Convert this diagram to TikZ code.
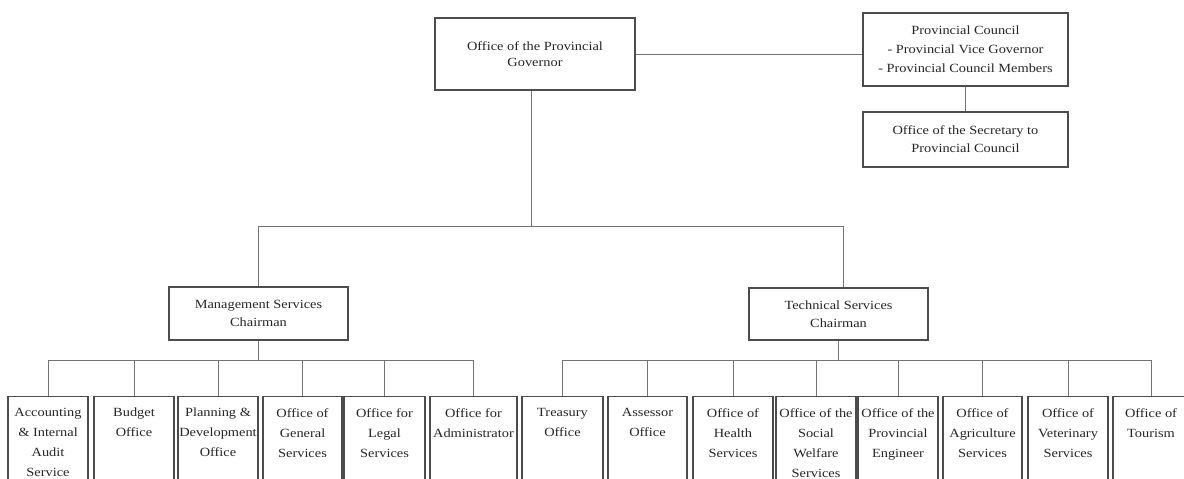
\documentclass[tikz,border=0pt]{standalone}
\usepackage{fontspec}
\setmainfont[FakeStretch=1.15]{Liberation Serif}
\tikzset{
  box/.style={draw=black!70, line width=1.1pt, fill=white, inner sep=0pt},
  toptext/.style={text=black!85, align=center},
  lbl/.style={text=black!85, align=center, inner sep=0pt, font={\fontsize{12.5}{20}\selectfont}},
  conn/.style={draw=black!55, line width=0.7pt},
}
\newcommand\lowbox[4]{%
  \node[box, anchor=north, minimum width=#3pt, minimum height=100pt] (#1) at (#2,396) {};
  \node[lbl, anchor=north] (#1t) at ([yshift=-12pt]#1.north) {#4};
}
\begin{document}
\begin{tikzpicture}[x=1pt, y=-1pt]
\useasboundingbox (0,0) rectangle (1184,479);
\clip (0,0) rectangle (1184,479);

% top level
\node[box, toptext, minimum width=200pt, minimum height=72pt, font={\fontsize{12.5}{16}\selectfont}] (gov) at (535,54) {Office of the Provincial\\Governor};
\node[box, toptext, minimum width=205pt, minimum height=73pt, font={\fontsize{12.5}{19}\selectfont}] (council) at (965.5,49.5) {Provincial Council\\- Provincial Vice Governor\\- Provincial Council Members};
\node[box, toptext, minimum width=205pt, minimum height=55pt, font={\fontsize{12.5}{18}\selectfont}] (sec) at (965.5,139.5) {Office of the Secretary to\\Provincial Council};

% second level
\node[box, toptext, minimum width=179pt, minimum height=53pt, font={\fontsize{12.5}{18}\selectfont}] (mgmt) at (258.5,313.5) {Management Services\\Chairman};
\node[box, toptext, minimum width=179pt, minimum height=52pt, font={\fontsize{12.5}{18}\selectfont}] (tech) at (838.5,314) {Technical Services\\Chairman};

% bottom level
\lowbox{acc}{48}{80}{Accounting\\\& Internal\\Audit\\Service}
\lowbox{bud}{134}{80}{Budget\\Office}
\lowbox{plan}{218}{80}{Planning \&\\Development\\Office}
\lowbox{gen}{302.5}{79}{Office of\\General\\Services}
\lowbox{legal}{384.5}{81}{Office for\\Legal\\Services}
\lowbox{admin}{473.5}{87}{Office for\\Administrator}
\lowbox{treas}{562.5}{81}{Treasury\\Office}
\lowbox{assess}{647.5}{79}{Assessor\\Office}
\lowbox{health}{733}{80}{Office of\\Health\\Services}
\lowbox{social}{816}{80}{Office of the\\Social\\Welfare\\Services}
\lowbox{eng}{898}{80}{Office of the\\Provincial\\Engineer}
\lowbox{agri}{982.5}{79}{Office of\\Agriculture\\Services}
\lowbox{vet}{1068}{80}{Office of\\Veterinary\\Services}
\lowbox{tour}{1151}{76}{Office of\\Tourism}

% connectors
\coordinate (topbus) at (531,226);
\coordinate (lbus) at (258.5,360);
\coordinate (rbus) at (838.5,360);
\draw[conn] (gov.east) -- (gov.east -| council.west);
\draw[conn] (council.south) -- (sec.north);
\draw[conn] ([xshift=-4pt]gov.south) -- (topbus);
\draw[conn] (mgmt.north) |- (topbus);
\draw[conn] ([xshift=5pt]tech.north) |- (topbus);
\draw[conn] (mgmt.south) -- (lbus);
\draw[conn] (tech.south) -- (rbus);
\foreach \n in {acc,bud,plan,gen,legal,admin}{\draw[conn] (\n.north) |- (lbus);}
\foreach \n in {treas,assess,health,social,eng,agri,vet,tour}{\draw[conn] (\n.north) |- (rbus);}
\end{tikzpicture}
\end{document}
